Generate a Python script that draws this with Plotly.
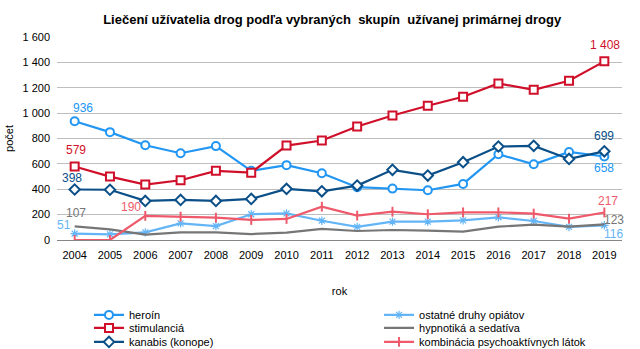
import plotly.graph_objects as go

years = [str(y) for y in range(2004, 2020)]

heroin = [936, 850, 747, 684, 740, 545, 590, 526, 416, 405, 392, 442, 676, 597, 694, 658]
stimulancia = [579, 500, 437, 471, 545, 531, 744, 784, 894, 981, 1058, 1129, 1234, 1184, 1255, 1408]
kanabis = [398, 396, 308, 316, 308, 324, 403, 384, 429, 553, 508, 613, 737, 742, 639, 699]
ostatne = [51, 45, 60, 131, 110, 203, 210, 152, 103, 145, 145, 155, 179, 150, 103, 116]
hypnotika = [107, 84, 42, 60, 60, 47, 58, 87, 71, 79, 74, 66, 105, 121, 105, 123]
kombinacia = [0, 0, 190, 184, 176, 158, 166, 263, 192, 223, 203, 218, 218, 208, 168, 217]

names = ["heroín", "ostatné druhy opiátov", "stimulanciá", "hypnotiká a sedatíva",
         "kanabis (konope)", "kombinácia psychoaktívnych látok"]

C_HER = "#2196F3"
C_STI = "#D0102A"
C_KAN = "#0B4F88"
C_OST = "#64B5F6"
C_HYP = "#767676"
C_KOM = "#EE5A6B"

fig = go.Figure()

def add(name, vals, color, symbol, size, legend):
    fig.add_trace(go.Scatter(
        x=years, y=vals, name=name, mode="lines+markers", legend=legend,
        line=dict(color=color, width=2.2),
        marker=dict(symbol=symbol, size=size, color="white",
                    line=dict(color=color, width=2)),
    ))

add(names[0], heroin, C_HER, "circle", 8, "legend")
fig.add_trace(go.Scatter(
    x=years, y=ostatne, name=names[1], mode="lines+markers", legend="legend2",
    line=dict(color=C_OST, width=2.2),
    marker=dict(symbol="asterisk-open", size=7, color=C_OST, line=dict(color=C_OST, width=1.2)),
))
add(names[2], stimulancia, C_STI, "square", 8, "legend3")
fig.add_trace(go.Scatter(
    x=years, y=hypnotika, name=names[3], mode="lines", legend="legend4",
    line=dict(color=C_HYP, width=2.2),
))
add(names[4], kanabis, C_KAN, "diamond", 8, "legend5")
fig.add_trace(go.Scatter(
    x=years, y=kombinacia, name=names[5], mode="lines+markers", legend="legend6",
    line=dict(color=C_KOM, width=2.2),
    marker=dict(symbol="line-ns-open", size=7, color=C_KOM, line=dict(color=C_KOM, width=2)),
))

def fmt(v):
    return f"{v:,}".replace(",", " ")

last = len(years) - 1
# (category index, value, colour, xshift, yshift)
labels = [
    (0, heroin[0], C_HER, 8, 13),
    (0, stimulancia[0], C_STI, 1, 17),
    (0, kanabis[0], C_KAN, -3, 12),
    (0, hypnotika[0], C_HYP, 1, 13),
    (0, ostatne[0], C_OST, -11, 9),
    (2, kombinacia[2], C_KOM, -14, 9),
    (last, stimulancia[last], C_STI, 1, 16),
    (last, kanabis[last], C_KAN, 0, 15),
    (last, heroin[last], C_HER, 0, -11),
    (last, kombinacia[last], C_KOM, 4, 11),
    (last, hypnotika[last], C_HYP, 10, 4),
    (last, ostatne[last], C_OST, 9, -9),
]
for i, y, c, dx, dy in labels:
    fig.add_annotation(x=i, y=y, xref="x", yref="y", text=fmt(y), showarrow=False,
                       xshift=dx, yshift=dy,
                       font=dict(color=c, size=12, family="Liberation Sans, Arial"))

def leg(xl, yc):
    return dict(orientation="v", x=xl, xanchor="left", y=yc, yanchor="middle",
                itemwidth=30, font=dict(size=11), bgcolor="rgba(0,0,0,0)")

X1, X2 = 0.0566, 0.570
R1, R2, R3 = -0.369, -0.433, -0.502

fig.update_layout(
    width=640, height=349,
    margin=dict(l=57, r=18, t=37, b=109, autoexpand=False),
    paper_bgcolor="white", plot_bgcolor="white",
    separators=", ",
    font=dict(family="Liberation Sans, Arial", size=11, color="#000000"),
    title=dict(text="<b>Liečení užívatelia drog podľa vybraných  skupín  užívanej primárnej drogy</b>",
               x=0.519, xanchor="center", y=0.945, yanchor="middle",
               font=dict(size=13, family="Liberation Sans, Arial", color="#000")),
    xaxis=dict(type="category", range=[-0.5, 15.5], showgrid=False,
               showline=True, linecolor="#868686", linewidth=1,
               ticks="", tickfont=dict(size=11), ticklabelstandoff=5,
               title=dict(text="rok", font=dict(size=11), standoff=27)),
    yaxis=dict(range=[0, 1600], dtick=200, showgrid=True, gridcolor="#BEBEBE",
               gridwidth=1, zeroline=False, tickfont=dict(size=11),
               ticks="", ticklen=0, tickformat=",d", ticklabelstandoff=6,
               title=dict(text="počet", font=dict(size=11), standoff=6)),
    legend=leg(X1, R1),
    legend2=leg(X2, R1),
    legend3=leg(X1, R2),
    legend4=leg(X2, R2),
    legend5=leg(X1, R3),
    legend6=leg(X2, R3),
    showlegend=True,
)

fig.write_html("out.html")
